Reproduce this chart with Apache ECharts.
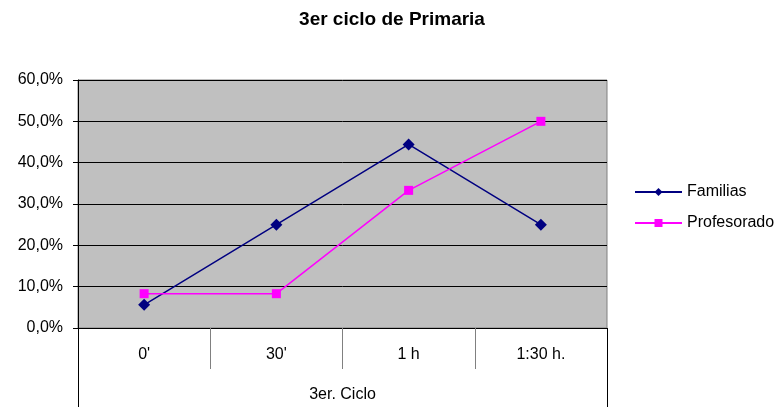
<!DOCTYPE html>
<html>
<head>
<meta charset="utf-8">
<script src="https://cdn.jsdelivr.net/npm/echarts@6/dist/echarts.min.js"></script>
<style>
  html, body { margin: 0; padding: 0; background: #fff; }
  #chart { width: 784px; height: 407px; }
</style>
</head>
<body>
<div id="chart"></div>
<script>
const categories = ["0'", "30'", '1 h', '1:30 h.'];
const groupLabel = ['3er. Ciclo'];
const familias = [5.6, 25.0, 44.4, 25.0];
const profesorado = [8.3, 8.3, 33.3, 50.0];

const font = 'Liberation Sans, Arial, sans-serif';
const chart = echarts.init(document.getElementById('chart'));

const option = {
  animation: false,
  title: {
    text: '3er ciclo de Primaria',
    left: 'center',
    top: 5,
    textStyle: { fontFamily: font, fontSize: 19, fontWeight: 'bold', color: '#000' },
  },
  legend: {
    orient: 'vertical',
    left: 629,
    top: 179,
    itemWidth: 47,
    itemHeight: 10,
    itemGap: 15,
    textStyle: { fontFamily: font, fontSize: 16, color: '#000' },
    data: ['Familias', 'Profesorado'],
  },
  grid: {
    left: 78,
    right: 177,
    top: 80,
    bottom: 79,
    show: true,
    backgroundColor: '#C0C0C0',
    borderColor: '#808080',
    borderWidth: 1,
  },
  xAxis: [
    {
      type: 'category',
      data: categories,
      boundaryGap: true,
      axisLine: { lineStyle: { color: '#000', width: 1 } },
      axisTick: { show: true, length: 41, lineStyle: { color: '#808080' } },
      axisLabel: { margin: 19, fontFamily: font, fontSize: 16, color: '#000' },
    },
    {
      type: 'category',
      position: 'bottom',
      data: groupLabel,
      boundaryGap: true,
      axisLine: { show: false },
      axisTick: { show: true, length: 79, lineStyle: { color: '#000' } },
      axisLabel: { margin: 59, fontFamily: font, fontSize: 16, color: '#000' },
    },
  ],
  yAxis: {
    type: 'value',
    min: 0,
    max: 60,
    interval: 10,
    axisLine: { show: true, lineStyle: { color: '#000' } },
    axisTick: { show: true, length: 5, lineStyle: { color: '#000' } },
    splitLine: { lineStyle: { color: '#000', width: 1 } },
    axisLabel: {
      margin: 15,
      fontFamily: font,
      fontSize: 16,
      color: '#000',
      formatter: v => v.toFixed(1).replace('.', ',') + '%',
    },
  },
  series: [
    {
      name: 'Familias',
      type: 'line',
      data: familias,
      symbol: 'diamond',
      symbolSize: 12,
      lineStyle: { color: '#000080', width: 1.5 },
      itemStyle: { color: '#000080' },
    },
    {
      name: 'Profesorado',
      type: 'line',
      data: profesorado,
      symbol: 'rect',
      symbolSize: 9,
      lineStyle: { color: '#FF00FF', width: 1.5 },
      itemStyle: { color: '#FF00FF' },
    },
  ],
};

chart.setOption(option);
</script>
</body>
</html>
